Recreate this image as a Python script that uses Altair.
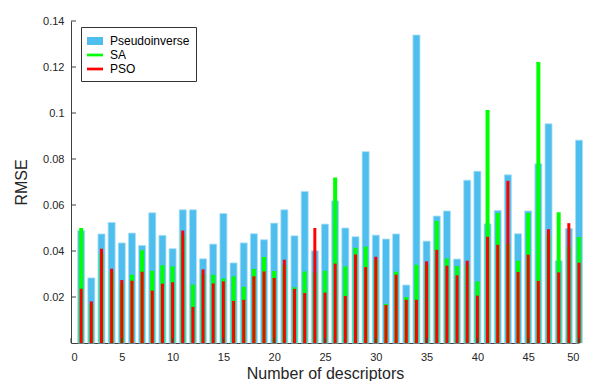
import altair as alt
import pandas as pd

descriptors = list(range(1, 51))
pseudoinverse = [0.0489, 0.0283, 0.0474, 0.0524, 0.0435, 0.0478, 0.0424, 0.0566, 0.0468, 0.0410,
                 0.0579, 0.0579, 0.0366, 0.0430, 0.0563, 0.0348, 0.0435, 0.0475, 0.0449, 0.0521,
                 0.0579, 0.0466, 0.0659, 0.0401, 0.0517, 0.0618, 0.0500, 0.0462, 0.0832, 0.0469,
                 0.0452, 0.0474, 0.0252, 0.1339, 0.0443, 0.0552, 0.0574, 0.0365, 0.0708, 0.0747,
                 0.0518, 0.0576, 0.0731, 0.0475, 0.0574, 0.0779, 0.0953, 0.0358, 0.0498, 0.0882]
sa = [0.0500, 0.0170, 0.0390, 0.0310, 0.0260, 0.0297, 0.0403, 0.0314, 0.0338, 0.0333,
      0.0470, 0.0254, 0.0300, 0.0297, 0.0281, 0.0290, 0.0244, 0.0322, 0.0374, 0.0313,
      0.0340, 0.0242, 0.0311, 0.0306, 0.0314, 0.0720, 0.0333, 0.0414, 0.0419, 0.0360,
      0.0170, 0.0310, 0.0200, 0.0340, 0.0340, 0.0531, 0.0368, 0.0335, 0.0340, 0.0268,
      0.1013, 0.0565, 0.0430, 0.0358, 0.0565, 0.1222, 0.0470, 0.0569, 0.0420, 0.0461]
pso = [0.0236, 0.0181, 0.0410, 0.0323, 0.0274, 0.0271, 0.0310, 0.0228, 0.0258, 0.0264,
       0.0489, 0.0157, 0.0320, 0.0259, 0.0268, 0.0183, 0.0188, 0.0290, 0.0311, 0.0283,
       0.0362, 0.0235, 0.0217, 0.0500, 0.0219, 0.0345, 0.0204, 0.0385, 0.0330, 0.0375,
       0.0165, 0.0297, 0.0188, 0.0188, 0.0355, 0.0405, 0.0336, 0.0294, 0.0358, 0.0206,
       0.0462, 0.0427, 0.0705, 0.0309, 0.0384, 0.0270, 0.0495, 0.0307, 0.0521, 0.0349]

methods = ["Pseudoinverse", "SA", "PSO"]
colors = ["#4DBEEE", "#00FF00", "#FF0000"]
x_ticks = [0, 5, 10, 15, 20, 25, 30, 35, 40, 45, 50]
y_ticks = [0.02, 0.04, 0.06, 0.08, 0.1, 0.12, 0.14]

rows = []
for name, vals in zip(methods, [pseudoinverse, sa, pso]):
    for n, v in zip(descriptors, vals):
        rows.append({"n": n, "value": v, "method": name})
df = pd.DataFrame(rows)
xt = pd.DataFrame({"n": x_ticks})
yt = pd.DataFrame({"value": y_ticks})
leg_df = pd.DataFrame({"method": methods})

W, H = 508, 322
axis_color = "#404040"
xs = alt.Scale(domain=[0, 50], nice=False, zero=False, padding=0)
ys = alt.Scale(domain=[0, 0.14], nice=False, padding=0)
xaxis = alt.Axis(values=x_ticks, title="Number of descriptors", ticks=False, grid=False,
                 labelPadding=8, titlePadding=3, format="d")
yaxis = alt.Axis(values=y_ticks, title="RMSE", ticks=False, grid=False, format="~g",
                 labelPadding=7, titlePadding=13)

xenc = alt.X("n:Q", scale=xs, axis=xaxis)
yenc = alt.Y("value:Q", scale=ys, axis=yaxis)

thick = "M-1,-0.5H1V0.5H-1Z"
thin = "M-1,-0.17H1V0.17H-1Z"
legend = alt.Legend(
    title=None, orient="none", legendX=10, legendY=6, padding=6, rowPadding=-1,
    strokeColor="#333333", fillColor="white", labelFontSize=12, labelColor="#000000",
    symbolSize=256, labelOffset=7, symbolStrokeWidth=0, symbolOpacity=1,
)


def layer(name, col, size, stroke=None):
    kw = dict(size=size, clip=False, color=col)
    if stroke:
        kw.update(stroke=stroke, strokeWidth=0.8)
    return alt.Chart(df).transform_filter(alt.datum.method == name).mark_bar(**kw).encode(
        x=xenc, y=yenc)


blue = layer("Pseudoinverse", colors[0], 7, "#a9def5")
green = layer("SA", colors[1], 4)
red = layer("PSO", colors[2], 3)

leg_layer = alt.Chart(leg_df).mark_point(filled=True, size=0).encode(
    color=alt.Color("method:N", scale=alt.Scale(domain=methods, range=colors), legend=legend),
    shape=alt.Shape("method:N", scale=alt.Scale(domain=methods, range=[thick, thin, thin]), legend=legend),
)

xtick_layer = alt.Chart(xt).mark_rule(color=axis_color, strokeWidth=1).encode(
    x=xenc, y=alt.value(H), y2=alt.value(H - 5))
ytick_layer = alt.Chart(yt).mark_rule(color=axis_color, strokeWidth=1).encode(
    y=yenc, x=alt.value(0), x2=alt.value(5))

chart = alt.layer(blue, green, red, xtick_layer, ytick_layer, leg_layer).properties(
    width=W, height=H,
    autosize=alt.AutoSizeParams(type="none"),
    padding={"left": 63, "top": 13, "right": 6, "bottom": 38},
).configure_view(stroke=None).configure_axis(
    domainColor=axis_color, labelColor="#262626", titleColor="#262626",
    labelFont="Liberation Sans", titleFont="Liberation Sans",
    labelFontSize=11, titleFontSize=16, titleFontWeight="normal",
).configure_legend(labelFont="Liberation Sans")

chart.save("out.html", embed_options={"renderer": "svg", "actions": False})
